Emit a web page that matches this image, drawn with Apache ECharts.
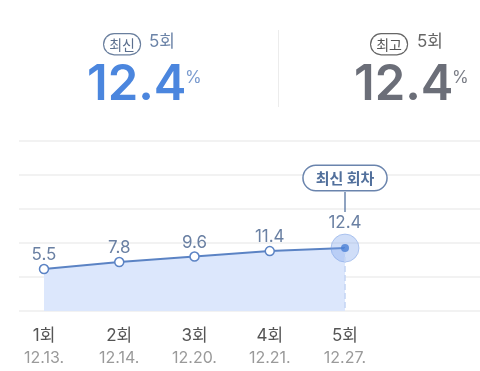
<!DOCTYPE html>
<html><head><meta charset="utf-8">
<script src="https://cdn.jsdelivr.net/npm/echarts@6/dist/echarts.min.js"></script>
<style>html,body{margin:0;padding:0;background:#fff}#c{width:480px;height:371px}</style>
</head><body><div id="c"></div>
<script>
const rounds = ['1회','2회','3회','4회','5회'];
const dates = ['12.13.','12.14.','12.20.','12.21.','12.27.'];
const values = [5.5, 7.8, 9.6, 11.4, 12.4];
const latestLabel = '최신';
const bestLabel = '최고';
const latestRound = '5회';
const bestRound = '5회';
const latestValue = '12.4';
const bestValue = '12.4';
const calloutText = '최신 회차';

const F = 'Inter, "Noto Sans CJK KR", sans-serif';
const K = '"Noto Sans CJK KR", sans-serif';
const chart = echarts.init(document.getElementById('c'), null, {renderer:'canvas'});
const last = values.length - 1;
const lineData = values.map((v,i)=> i===last ? {
  value: v, symbolSize: 28,
  itemStyle:{color:'rgba(120,160,235,0.35)', borderColor:'rgba(110,150,225,0.45)', borderWidth:1},
  label:{distance:2}
} : v);

chart.setOption({
  animation:false,
  grid:[
    {left:19, right:0, top:141, bottom:60},
    {left:44, right:135, top:141, bottom:60}
  ],
  xAxis:[
    {gridIndex:0, type:'value', min:0, max:1, show:false},
    {gridIndex:1, type:'category', data:rounds, boundaryGap:false,
      axisLine:{show:false}, axisTick:{show:false}, splitLine:{show:false},
      axisLabel:{margin:13, interval:0,
        formatter:(v,i)=>'{a|'+v+'}\n{b|'+dates[i]+'}',
        rich:{a:{fontFamily:F, fontSize:17, color:'#555', lineHeight:23},
              b:{fontFamily:F, fontSize:16, color:'#9a9a9a', lineHeight:23}}}}
  ],
  yAxis:[
    {gridIndex:0, type:'value', min:0, max:5, interval:1,
      axisLabel:{show:false}, axisLine:{show:false}, axisTick:{show:false},
      splitLine:{show:true, lineStyle:{color:'#eeeeee', width:1.5}}},
    {gridIndex:1, type:'value', min:-8.3, max:47.6, show:false, splitLine:{show:false}}
  ],
  series:[
    {type:'line', xAxisIndex:1, yAxisIndex:1, data:lineData,
      symbol:'circle', symbolSize:9, showAllSymbol:true,
      lineStyle:{color:'#5b83c4', width:2},
      itemStyle:{color:'#fff', borderColor:'#5b83c4', borderWidth:1.5},
      areaStyle:{origin:'start', color:'#dce7fc', opacity:1},
      label:{show:true, position:'top', distance:0, fontFamily:F, fontSize:17, color:'#6a80a3'},
      markLine:{silent:true, symbol:['none','none'], label:{show:false},
        lineStyle:{type:'dashed', color:'#c4d5f3', width:1.5},
        data:[[{coord:[last, values[last]]},{coord:[last, -8.3]}]]},
      markPoint:{silent:true, data:[
        {coord:[last, values[last]], symbol:'rect', symbolSize:[1.5,20], symbolOffset:[0,-46],
          itemStyle:{color:'#6a84ad'}, label:{show:false}},
        {coord:[last, values[last]], symbol:'circle', symbolSize:0,
          label:{show:true, formatter:calloutText, offset:[0,-70], fontFamily:K, fontSize:15, fontWeight:'bold',
            color:'#52709c', backgroundColor:'#fff', borderColor:'#6a84ad', borderWidth:1.5,
            borderRadius:14, padding:[5,12,4,12]}}
      ]}
    },
    {type:'scatter', xAxisIndex:1, yAxisIndex:1, data:values.map((v,i)=> i===last ? v : '-'),
      symbolSize:8, itemStyle:{color:'#4a7fd6'}, z:5}
  ],
  graphic:[
    {type:'text', left:103, top:33, style:{text:latestLabel, fontFamily:K, fontSize:14, lineHeight:16, fill:'#5b6f8e',
      backgroundColor:'#fff', borderColor:'#6a7f9e', borderWidth:1.2, borderRadius:10, padding:[2,5,2,5]}},
    {type:'text', left:149, top:33, style:{text:latestRound, fontFamily:F, fontSize:17, fill:'#6c84a8'}},
    {type:'text', left:87, top:61, style:{text:latestValue, fontFamily:F, fontSize:49, fontWeight:600, fill:'#4b86de'}},
    {type:'text', left:185, top:69, style:{text:'%', fontFamily:F, fontSize:17, fill:'#7a9bcf'}},
    {type:'rect', shape:{x:278, y:30, width:1, height:77}, style:{fill:'#ececec'}},
    {type:'text', left:370, top:33, style:{text:bestLabel, fontFamily:K, fontSize:14, lineHeight:16, fill:'#555',
      backgroundColor:'#fff', borderColor:'#666', borderWidth:1.2, borderRadius:10, padding:[2,5,2,5]}},
    {type:'text', left:417, top:33, style:{text:bestRound, fontFamily:F, fontSize:17, fill:'#666'}},
    {type:'text', left:354, top:61, style:{text:bestValue, fontFamily:F, fontSize:49, fontWeight:600, fill:'#6b6e78'}},
    {type:'text', left:452, top:69, style:{text:'%', fontFamily:F, fontSize:17, fill:'#7a7d86'}}
  ]
});
</script></body></html>
